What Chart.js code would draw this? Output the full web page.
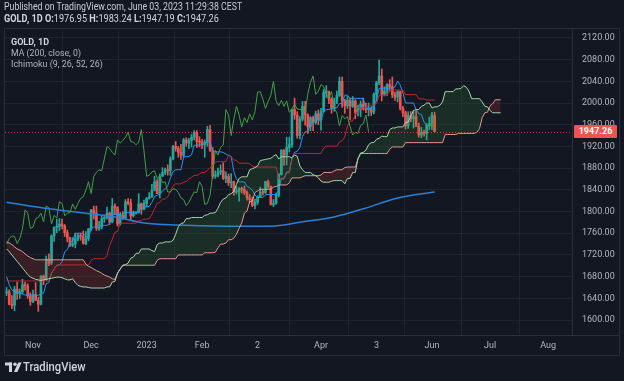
<!DOCTYPE html>
<html>
<head>
<meta charset="utf-8">
<script src="https://cdn.jsdelivr.net/npm/chart.js@4.4.0/dist/chart.umd.min.js"></script>
<style>
  body { margin: 0; width: 624px; height: 381px; background: #131722; overflow: hidden; position: relative; font-family: Roboto, sans-serif; }
  .txt { position: absolute; white-space: nowrap; transform-origin: 0 50%; line-height: 1; }
  #pane { position: absolute; left: 4px; top: 28px; width: 616px; height: 328px; border: 1px solid #2a2e39; box-sizing: border-box; }
  #axisSep { position: absolute; left: 572px; top: 335px; width: 48px; height: 1px; background: #2a2e39; }
  #chart { position: absolute; left: 0; top: 0; }
  #priceTag { position: absolute; left: 574px; width: 43px; height: 13px; background: #ef5350; color: #fff; font: bold 9px Roboto, sans-serif; line-height: 13px; text-align: center; border-radius: 1px; }
  #logo { position: absolute; left: 5px; top: 362px; }
</style>
</head>
<body>
<div id="pane"></div>
<div id="axisSep"></div>
<canvas id="chart" width="624" height="381"></canvas>

<div class="txt" id="hdr1" style="left:4px;top:2px;font-size:10px;color:#c9ccd3">Published on TradingView.com, June 03, 2023 11:29:38 CEST</div>
<div class="txt" id="hdr2" style="left:4px;top:14px;font-size:10px;color:#d1d4dc"><b>GOLD, 1D</b> <b>O:</b>1976.95 <b>H:</b>1983.24 <b>L:</b>1947.19 <b>C:</b>1947.26</div>
<div class="txt" id="leg1" style="left:11px;top:37px;font-size:9.5px;color:#d1d4dc;font-weight:bold">GOLD, 1D</div>
<div class="txt" id="leg2" style="left:11px;top:48px;font-size:9.5px;color:#b2b5be">MA (200, close, 0)</div>
<div class="txt" id="leg3" style="left:11px;top:59px;font-size:9.5px;color:#b2b5be">Ichimoku (9, 26, 52, 26)</div>
<div id="priceTag">1947.26</div>
<svg id="logo" width="17" height="11" viewBox="0 0 17 11">
  <rect x="0" y="0.5" width="7" height="3" fill="#d1d4dc"/>
  <rect x="4" y="0.5" width="3" height="9.5" fill="#d1d4dc"/>
  <circle cx="10" cy="2.3" r="1.8" fill="#d1d4dc"/>
  <polygon points="13.2,0.5 16.6,0.5 12.4,10 9,10" fill="#d1d4dc"/>
</svg>
<div class="txt" id="logoTxt" style="left:23px;top:361px;font-size:12.5px;color:#d1d4dc;font-weight:500">TradingView</div>

<script>
// GOLD daily candles, Oct 18 2022 .. Jun 2 2023 (bar index 0..162)
const opens = [
  1650,1652,1629,1627,1657,1649,1652,1665,1663,1644,
  1634,1647,1636,1629,1681,1675,1712,1705,1755,1771,
  1772,1777,1774,1761,1751,1738,1740,1750,1755,1754,
  1741,1750,1768,1803,1797,1769,1771,1787,1789,1797,
  1781,1810,1807,1777,1793,1788,1818,1815,1792,1797,
  1798,1814,1804,1815,1824,1827,1839,1855,1833,1865,
  1872,1877,1875,1897,1920,1916,1909,1904,1932,1926,
  1931,1937,1946,1929,1928,1923,1928,1951,1912,1865,
  1867,1873,1875,1861,1865,1853,1855,1836,1836,1842,
  1841,1835,1825,1822,1811,1817,1827,1836,1835,1855,
  1846,1813,1815,1830,1868,1913,1904,1918,1923,1988,
  1978,1940,1970,1994,1978,1956,1973,1964,1980,1969,
  1984,2020,2021,2007,1990,2003,2014,2040,2004,1995,
  2005,1994,2004,1983,1989,1998,1989,1988,1990,1983,
  2016,2038,2050,2016,2022,2034,2030,2015,2011,2021,
  1990,1982,1958,1977,1971,1975,1957,1941,1946,1944,
  1959,1962,1976.95
];
const highs = [
  1660,1656,1645,1662,1670,1657,1675,1670,1667,1650,
  1655,1669,1642,1682,1683,1718,1722,1757,1772,1786,
  1787,1786,1776,1766,1753,1752,1760,1759,1760,1764,
  1763,1769,1804,1810,1810,1782,1791,1794,1808,1799,
  1824,1814,1809,1798,1800,1822,1824,1823,1801,1800,
  1833,1816,1821,1826,1835,1850,1865,1859,1869,1881,
  1880,1886,1901,1922,1929,1920,1924,1935,1936,1935,
  1942,1949,1949,1938,1933,1932,1957,1959,1918,1875,
  1880,1886,1890,1873,1869,1870,1856,1846,1844,1845,
  1847,1838,1831,1827,1823,1829,1845,1841,1856,1858,
  1847,1822,1834,1870,1914,1914,1937,1937,1989,2009,
  1984,1975,2003,2003,1980,1975,1976,1985,1987,1990,
  2025,2032,2022,2010,2009,2022,2048,2048,2007,2012,
  2009,2012,2006,1996,2004,2009,2000,2000,1993,2019,
  2040,2079,2063,2030,2036,2043,2048,2020,2023,2022,
  1994,1985,1984,1984,1985,1985,1963,1955,1950,1962,
  1974,1983,1983.24
];
const lows = [
  1645,1628,1621,1617,1638,1640,1648,1655,1640,1627,
  1632,1637,1616,1628,1665,1673,1700,1702,1745,1761,
  1765,1768,1754,1744,1735,1735,1733,1746,1747,1740,
  1739,1746,1765,1786,1765,1765,1768,1780,1786,1776,
  1779,1795,1773,1775,1785,1787,1812,1784,1790,1795,
  1797,1795,1803,1809,1823,1826,1838,1833,1825,1865,
  1868,1867,1867,1895,1911,1900,1896,1900,1920,1916,
  1919,1932,1918,1919,1916,1900,1920,1911,1861,1861,
  1864,1868,1859,1853,1848,1844,1830,1832,1819,1834,
  1831,1821,1817,1809,1805,1813,1826,1830,1833,1843,
  1812,1809,1813,1827,1867,1885,1886,1910,1918,1970,
  1935,1934,1967,1959,1944,1949,1949,1961,1960,1950,
  1983,2010,1999,1981,1985,1999,2012,1992,1981,1990,
  1969,1992,1971,1976,1975,1987,1982,1976,1977,1980,
  2003,2034,2004,2013,2014,2022,2010,2005,2002,1987,
  1975,1952,1953,1965,1954,1957,1937,1936,1939,1932,
  1951,1951,1947.19
];
const closes = [
  1652,1629,1627,1657,1649,1652,1665,1663,1644,1634,
  1647,1636,1629,1681,1675,1712,1705,1755,1771,1772,
  1777,1774,1761,1751,1738,1740,1750,1755,1754,1741,
  1750,1768,1803,1797,1769,1771,1787,1789,1797,1781,
  1810,1807,1777,1793,1788,1818,1815,1792,1797,1798,
  1814,1804,1815,1824,1827,1839,1855,1833,1865,1872,
  1877,1875,1897,1920,1916,1909,1904,1932,1926,1931,
  1937,1946,1929,1928,1923,1928,1951,1912,1865,1867,
  1873,1875,1861,1865,1853,1855,1836,1836,1842,1841,
  1835,1825,1822,1811,1817,1827,1836,1835,1855,1846,
  1813,1815,1830,1868,1913,1904,1918,1923,1988,1978,
  1940,1970,1994,1978,1956,1973,1964,1980,1969,1984,
  2020,2021,2007,1990,2003,2014,2040,2004,1995,2005,
  1994,2004,1983,1989,1998,1989,1988,1990,1983,2016,
  2038,2050,2016,2022,2034,2030,2015,2011,2021,1990,
  1982,1958,1977,1971,1975,1957,1941,1946,1944,1959,
  1962,1978,1947.26
];

// Ichimoku conversion (blue) and base (red) lines, per bar
const tenkan = [
  1680,1665,1655,1652,1650,1650,1648,1646,1646,1646,
  1646,1646,1645.5,1649,1649.5,1667,1669,1686.5,1694,1701,
  1701.5,1707.5,1726,1730,1743.5,1744.5,1760,1760,1760,1759.5,
  1754.5,1751,1768.5,1771.5,1771.5,1774.5,1774.5,1774.5,1774.5,1778,
  1794.5,1794.5,1794.5,1794.5,1796,1798.5,1798.5,1798.5,1798.5,1798.5,
  1803,1804,1808.5,1808.5,1809.5,1817,1827.5,1830,1832,1838,
  1842,1847.5,1862,1873.5,1877,1877,1877,1900,1901.5,1901.5,
  1904.5,1922,1922.5,1922.5,1922.5,1924.5,1928.5,1929.5,1910,1910,
  1910,1910,1909,1906,1903.5,1901.5,1874,1860,1854.5,1854.5,
  1854.5,1846,1843.5,1839.5,1830.5,1826,1826,1826,1830.5,1831.5,
  1831.5,1831.5,1831.5,1839.5,1861.5,1861.5,1873,1873,1899,1909,
  1911,1918,1938,1947,1947.5,1959.5,1963.5,1971.5,1968.5,1968.5,
  1984.5,1988,1988,1990.5,1990.5,1991,1999,1999,2014.5,2014.5,
  2008.5,2008.5,2008.5,2008.5,2008.5,2008.5,1990.5,1990.5,1990.5,1995,
  2005.5,2027,2027,2027.5,2027.5,2027.5,2028,2029.5,2040.5,2033,
  2019,2000,2000,2000,2000,1987.5,1980,1979,1965,1958.5,
  1958.5,1958.5,1958.5
];
const kijun = [
  1672,1672,1672,1672,1672,1672,1672,1672,1672,1672,
  1672,1672,1672,1672,1672,1672,1672,1686.5,1694,1701,
  1701.5,1701.5,1701.5,1701.5,1701.5,1701.5,1701.5,1701.5,1701.5,1701.5,
  1701.5,1701.5,1710,1713,1713,1713,1713,1713,1719,1737.5,
  1748.5,1762,1763,1778.5,1778.5,1778.5,1778.5,1778.5,1778.5,1778.5,
  1783,1783,1786,1786,1787,1794.5,1805.5,1815,1817,1823,
  1823,1827,1837,1847.5,1851,1851,1851,1854,1855.5,1860,
  1863,1866.5,1866.5,1869.5,1872,1872,1876,1881,1884,1891,
  1892,1892,1892,1892,1903.5,1901.5,1894.5,1894.5,1889,1889,
  1889,1889,1888,1884,1882,1882,1882,1882,1882,1882,
  1882,1882,1882,1861.5,1859.5,1859.5,1871,1871,1897,1907,
  1907,1907,1907,1907,1907,1907,1907,1907,1907,1907,
  1917,1920.5,1920.5,1920.5,1920.5,1920.5,1928.5,1930.5,1937.5,1957.5,
  1966.5,1967,1979,1983,1991,1991,1991,1996,1996,1996,
  1998.5,2014,2014.5,2014.5,2014.5,2024,2024,2024,2024,2024,
  2024,2015.5,2015.5,2015.5,2015.5,2015.5,2008,2007.5,2007.5,2005.5,
  2005.5,2005.5,2005.5
];
// leading spans, already placed at their plotted bar index (0..187)
const spanA = [
  1731,1726,1720,1714,1708,1702,1696,1690,1684,1679,
  1677,1675,1674,1673,1674,1675,1676,1677,1678,1679,
  1679,1678,1676,1674,1674,1676,1669,1664,1662,1661,
  1661,1660,1659,1659,1659,1659,1659,1659,1661,1661,
  1670,1671,1687,1694,1701,1702,1705,1714,1716,1723,
  1723,1731,1731,1731,1731,1728,1726,1739,1742,1742,
  1744,1744,1744,1747,1758,1772,1778,1779,1787,1787,
  1789,1789,1789,1789,1789,1793,1794,1797,1797,1798,
  1806,1817,1823,1825,1831,1833,1837,1850,1861,1864,
  1864,1864,1877,1879,1881,1884,1894,1895,1896,1897,
  1898,1902,1905,1897,1901,1901,1901,1901,1899,1904,
  1902,1884,1877,1872,1872,1872,1868,1866,1862,1856,
  1854,1854,1854,1856,1857,1857,1857,1857,1851,1861,
  1861,1872,1872,1898,1908,1909,1913,1923,1927,1927,
  1933,1935,1939,1938,1938,1951,1954,1954,1956,1956,
  1956,1964,1965,1976,1986,1988,1988,1994,1996,2000,
  2000,1991,1993,1993,1996,2002,2021,2021,2021,2021,
  2026,2026,2027,2032,2029,2022,2008,2008,2008,2008,
  2002,1994,1993,1986,1982,1982,1982,1982
];
const spanB = [
  1744,1742,1739,1735,1731,1729,1726,1722,1718,1715,
  1713,1711,1711,1711,1711,1711,1711,1711,1711,1711,
  1711,1711,1711,1711,1711,1711,1711,1711,1711,1711,
  1703,1699,1697,1694,1691,1689,1686,1683,1681,1679,
  1676,1675,1686,1694,1701,1701,1701,1701,1701,1701,
  1701,1701,1701,1701,1701,1701,1701,1710,1713,1713,
  1713,1713,1713,1713,1713,1720,1720,1720,1720,1720,
  1720,1720,1720,1720,1720,1724,1724,1724,1724,1725,
  1733,1740,1740,1742,1748,1748,1751,1758,1769,1779,
  1797,1801,1818,1819,1835,1838,1841,1841,1841,1841,
  1841,1845,1846,1849,1849,1849,1849,1853,1862,1862,
  1862,1862,1864,1866,1866,1866,1866,1866,1866,1867,
  1872,1872,1872,1872,1875,1877,1877,1877,1881,1882,
  1882,1882,1882,1897,1907,1907,1907,1907,1907,1907,
  1907,1907,1907,1907,1907,1915,1919,1919,1919,1919,
  1919,1927,1927,1927,1927,1927,1927,1927,1927,1927,
  1927,1927,1927,1927,1927,1927,1942,1942,1942,1942,
  1942,1944,1944,1944,1944,1944,1944,1944,1946,1953,
  1973,1982,1983,1995,1999,2006,2006,2006
];
const lagShift = 25; // lagging span drawn 25 bars back

// MA 200 read at a few bars
const maIdx = [0, 16, 23, 33, 41, 52, 64, 83, 100, 112, 124, 135, 148, 162];
const maVals = [1817, 1805, 1801, 1795, 1790, 1779, 1775, 1773, 1773, 1781, 1790, 1805, 1825, 1836];

// axes
const tickIdx = [10, 32, 53, 74, 95, 119, 140, 161, 183, 205];
const tickLabels = ['Nov', 'Dec', '2023', 'Feb', '2', 'Apr', '3', 'Jun', 'Jul', 'Aug'];
const priceTicks = [1600, 1640, 1680, 1720, 1760, 1800, 1840, 1880, 1920, 1960, 2000, 2040, 2080, 2120];
const lastPrice = 1947.26;

const UP = '#26a69a';
const DOWN = '#ef5350';
const GRID = 'rgba(42,46,57,0.55)';

const pts = arr => arr.map((v, i) => ({ x: i, y: v }));
const candleColor = ctx => closes[ctx.dataIndex] >= opens[ctx.dataIndex] ? UP : DOWN;

function line(data, color, width, extra) {
  return Object.assign({
    type: 'line', data: data, borderColor: color, borderWidth: width,
    pointRadius: 0, tension: 0, fill: false, order: 0
  }, extra || {});
}

// dotted last price line
const priceLine = {
  id: 'priceLine',
  afterDatasetsDraw(chart) {
    const { ctx, chartArea } = chart;
    const y = Math.round(chart.scales.y.getPixelForValue(lastPrice)) + 0.5;
    ctx.save();
    ctx.strokeStyle = 'rgba(239,83,80,0.75)';
    ctx.lineWidth = 1;
    ctx.setLineDash([1, 2]);
    ctx.beginPath();
    ctx.moveTo(chartArea.left, y);
    ctx.lineTo(chartArea.right, y);
    ctx.stroke();
    ctx.restore();
  }
};

Chart.defaults.font.family = 'Roboto';

const chart = new Chart(document.getElementById('chart'), {
  type: 'bar',
  data: {
    datasets: [
      line(pts(spanA), '#a5d6a7', 1, {
        fill: { target: '+1', above: 'rgba(67,160,71,0.16)', below: 'rgba(244,67,54,0.17)' }
      }),
      line(pts(spanB), '#ef9a9a', 1),
      line(maIdx.map((x, k) => ({ x: x, y: maVals[k] })), '#2a7fd6', 1.5, { cubicInterpolationMode: 'monotone' }),
      line(closes.slice(lagShift).map((v, i) => ({ x: i, y: v })), '#43a047', 1),
      line(pts(kijun), '#c0282d', 1),
      line(pts(tenkan), '#2196f3', 1),
      {
        type: 'bar',
        data: highs.map((h, i) => ({ x: i, y: [lows[i], h] })),
        backgroundColor: candleColor,
        barThickness: 1, grouped: false, order: 10
      },
      {
        type: 'bar',
        data: opens.map((o, i) => ({ x: i, y: [o, closes[i]] })),
        backgroundColor: candleColor,
        barThickness: 2, minBarLength: 1, grouped: false, order: 9
      }
    ]
  },
  options: {
    responsive: false,
    animation: false,
    devicePixelRatio: 1,
    layout: { autoPadding: false, padding: { left: 5, top: 30, right: 4, bottom: 26 } },
    plugins: { legend: { display: false }, tooltip: { enabled: false } },
    scales: {
      x: {
        type: 'linear', min: -0.6, max: 214, offset: false,
        grid: { color: GRID, drawTicks: false },
        border: { color: '#2a2e39' },
        afterBuildTicks: s => { s.ticks = tickIdx.map(v => ({ value: v })); },
        afterFit: s => { s.height = 20; },
        ticks: {
          color: '#b2b5be', font: { size: 9 }, padding: 5, maxRotation: 0, autoSkip: false,
          callback: v => tickLabels[tickIdx.indexOf(v)]
        }
      },
      y: {
        position: 'right', min: 1572.4, max: 2134.6,
        grid: { color: GRID, drawTicks: false },
        border: { color: '#2a2e39' },
        afterBuildTicks: s => { s.ticks = priceTicks.map(v => ({ value: v })); },
        afterFit: s => { s.width = 48; },
        ticks: { color: '#b2b5be', font: { size: 9 }, padding: 10, callback: v => v.toFixed(2) }
      }
    }
  },
  plugins: [priceLine]
});

// price tag on the axis
const tag = document.getElementById('priceTag');
tag.style.top = (chart.scales.y.getPixelForValue(lastPrice) - 6.5) + 'px';

// squeeze texts to the widths seen in the screenshot
function fitText(id, width) {
  const el = document.getElementById(id);
  el.style.transform = 'scaleX(' + (width / el.offsetWidth) + ')';
}
fitText('hdr1', 238);
fitText('hdr2', 215);
fitText('leg1', 38);
fitText('leg2', 70);
fitText('leg3', 92);
fitText('logoTxt', 63);
</script>
</body>
</html>
